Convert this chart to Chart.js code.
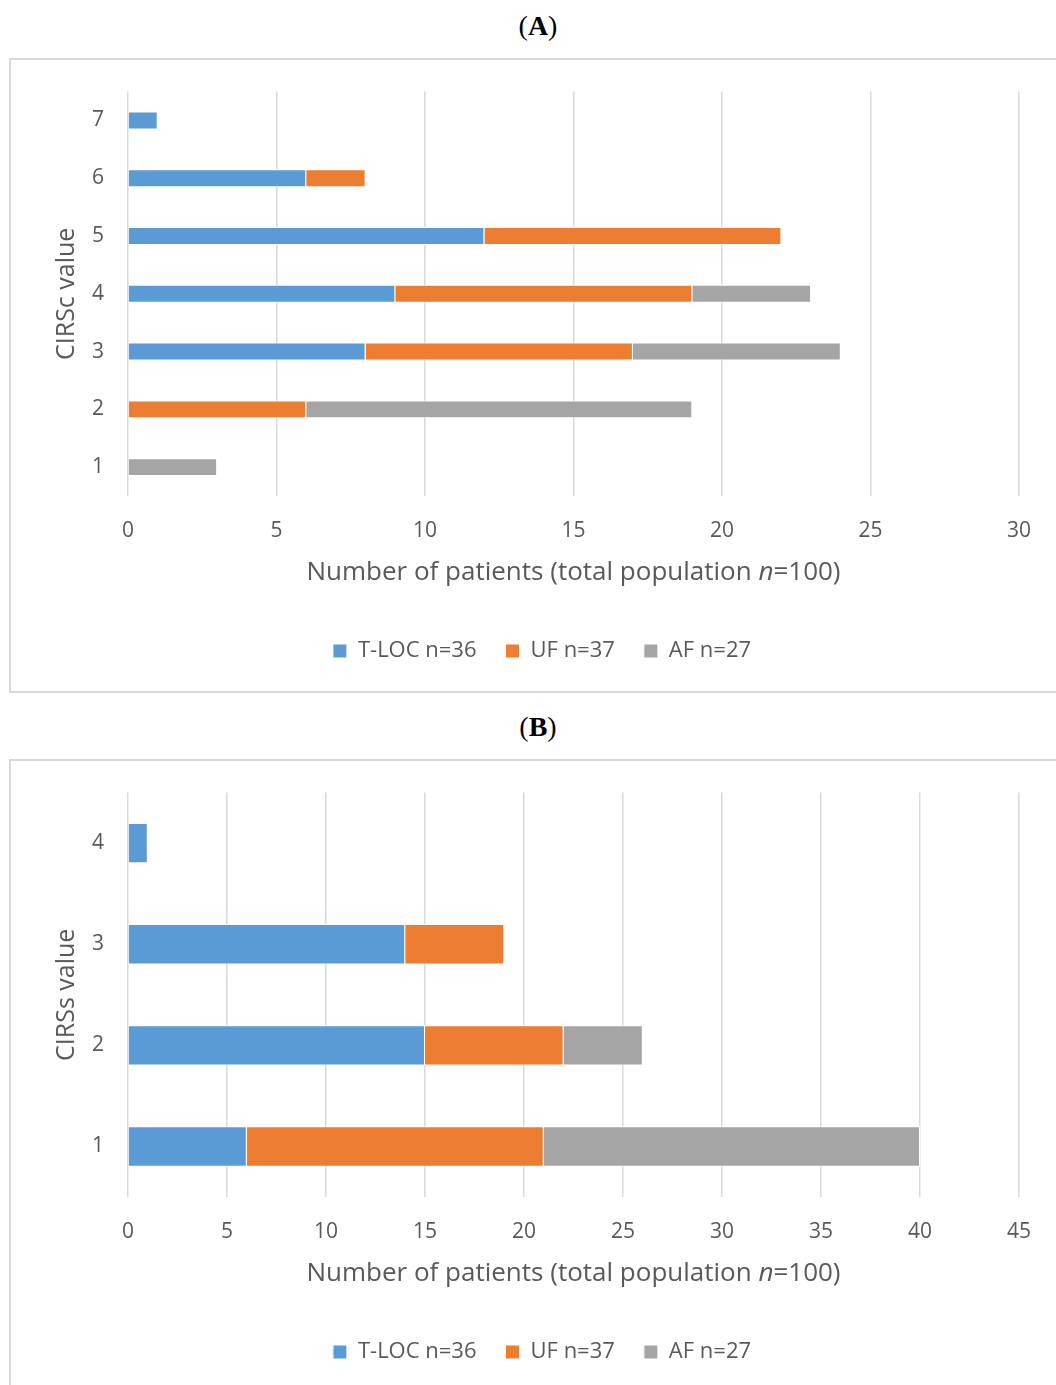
<!DOCTYPE html>
<html>
<head>
<meta charset="utf-8">
<script src="https://cdn.jsdelivr.net/npm/chart.js@4"></script>
<style>
  body { margin: 0; width: 1056px; height: 1385px; overflow: hidden; background: #fff; position: relative; }
  .panel-title { position: absolute; left: 0; width: 1076px; text-align: center; font-family: "Liberation Serif", serif; font-size: 28px; color: #000; }
  .frame { position: absolute; left: 9px; width: 1100px; height: 631px; border: 2px solid #d9d9d9; }
  .wrap { position: absolute; left: 0; width: 1056px; height: 617px; }
</style>
</head>
<body>
<div class="panel-title" style="top:10px">(<b>A</b>)</div>
<div class="frame" style="top:58px"></div>
<div class="wrap" style="top:55px"><canvas id="chartA"></canvas></div>

<div class="panel-title" style="top:711px">(<b>B</b>)</div>
<div class="frame" style="top:759px"></div>
<div class="wrap" style="top:756px"><canvas id="chartB"></canvas></div>

<script>
// CIRSc (A)
var cirscLabels = ["1", "2", "3", "4", "5", "6", "7"];
var cirscTloc = [0, 0, 8, 9, 12, 6, 1];
var cirscUf = [0, 6, 9, 10, 10, 2, 0];
var cirscAf = [3, 13, 7, 4, 0, 0, 0];

// CIRSs (B)
var cirssLabels = ["1", "2", "3", "4"];
var cirssTloc = [6, 15, 14, 1];
var cirssUf = [15, 7, 5, 0];
var cirssAf = [19, 4, 0, 0];

var seriesNames = ["T-LOC n=36", "UF n=37", "AF n=27"];
var seriesColors = ["#5b9bd5", "#ed7d31", "#a5a5a5"];
var textColor = "#595959";
var fontFamily = "'Open Sans', sans-serif";

// titre de l'axe X avec le n en italique
var xTitlePlugin = {
  id: "xTitle",
  afterDraw: function(chart) {
    var ctx = chart.ctx;
    var area = chart.chartArea;
    var parts = [
      ["Number of patients (total population ", "normal"],
      ["n", "italic"],
      ["=100)", "normal"]
    ];
    ctx.save();
    ctx.fillStyle = textColor;
    ctx.textBaseline = "middle";
    ctx.textAlign = "left";
    var total = 0;
    for (var i = 0; i < parts.length; i++) {
      ctx.font = parts[i][1] + " 26px " + fontFamily;
      total += ctx.measureText(parts[i][0]).width;
    }
    var x = (area.left + area.right) / 2 - total / 2;
    var y = area.bottom + 77;
    for (var j = 0; j < parts.length; j++) {
      ctx.font = parts[j][1] + " 26px " + fontFamily;
      ctx.fillText(parts[j][0], x, y);
      x += ctx.measureText(parts[j][0]).width;
    }
    ctx.restore();
  }
};

function makeChart(id, labels, tloc, uf, af, xMax, barPct, yTitle) {
  var values = [tloc, uf, af];
  var datasets = [];
  for (var i = 0; i < 3; i++) {
    datasets.push({
      label: seriesNames[i],
      data: values[i],
      backgroundColor: seriesColors[i],
      borderColor: "#ffffff",
      borderWidth: 1,
      barPercentage: barPct,
      categoryPercentage: 1
    });
  }
  return new Chart(document.getElementById(id), {
    type: "bar",
    data: { labels: labels, datasets: datasets },
    plugins: [xTitlePlugin],
    options: {
      indexAxis: "y",
      responsive: true,
      maintainAspectRatio: false,
      animation: false,
      layout: { padding: { left: 65, right: 37, top: 27, bottom: 0 } },
      plugins: {
        legend: {
          position: "bottom",
          labels: {
            boxWidth: 14,
            boxHeight: 14,
            padding: 29,
            color: textColor,
            font: { family: fontFamily, size: 22 }
          }
        },
        tooltip: { enabled: false }
      },
      scales: {
        x: {
          stacked: true,
          min: 0,
          max: xMax,
          afterFit: function(scale) { scale.height = 115; },
          grid: { color: "#d9d9d9", lineWidth: 1.5, drawTicks: false },
          border: { display: false },
          ticks: {
            stepSize: 5,
            padding: 22,
            color: textColor,
            font: { family: fontFamily, size: 21 }
          }
        },
        y: {
          stacked: true,
          reverse: true,
          afterFit: function(scale) { scale.width = 63; },
          grid: { display: false, drawTicks: false },
          border: { display: false },
          ticks: {
            padding: 24,
            color: textColor,
            font: { family: fontFamily, size: 21 }
          },
          title: {
            display: true,
            text: yTitle,
            color: textColor,
            padding: { top: -13, bottom: 0 },
            font: { family: fontFamily, size: 25 }
          }
        }
      }
    }
  });
}

makeChart("chartA", cirscLabels, cirscTloc, cirscUf, cirscAf, 30, 0.31, "CIRSc value");
makeChart("chartB", cirssLabels, cirssTloc, cirssUf, cirssAf, 45, 0.4, "CIRSs value");
</script>
</body>
</html>
